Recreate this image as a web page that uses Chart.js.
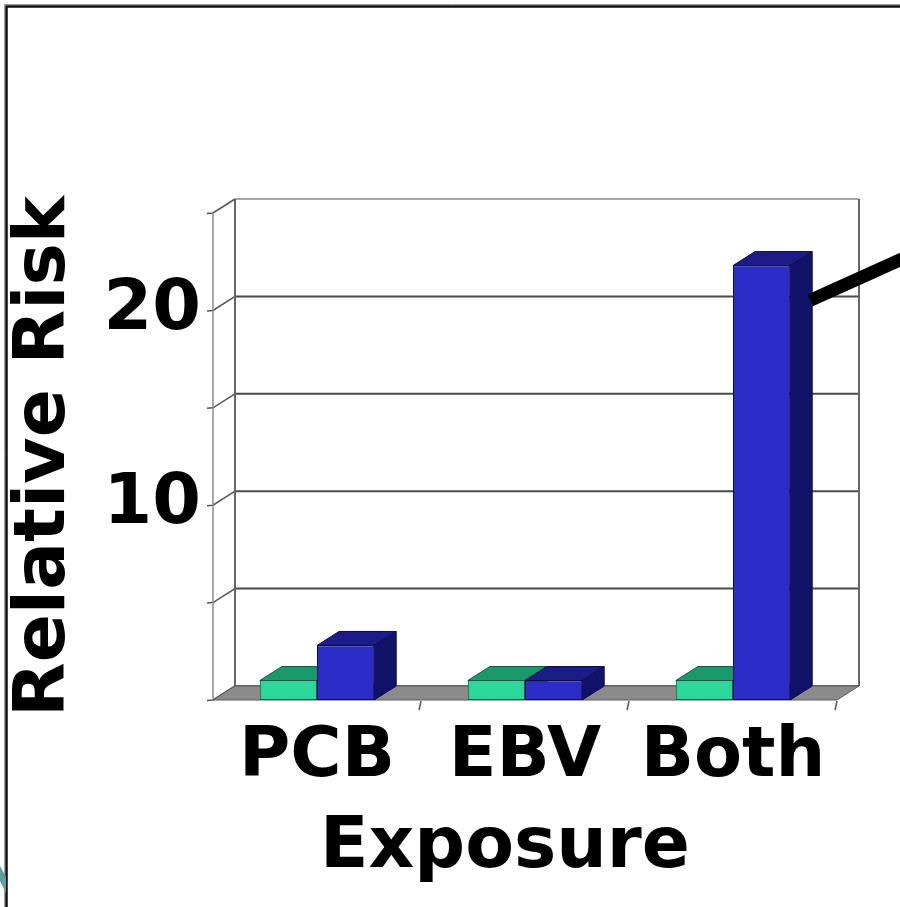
<!DOCTYPE html>
<html>
<head>
<meta charset="utf-8">
<title>Relative Risk by Exposure</title>
<script src="https://cdn.jsdelivr.net/npm/chart.js@4.4.1/dist/chart.umd.min.js"></script>
<style>
  html, body { margin: 0; padding: 0; background: #ffffff; }
  canvas { display: block; }
</style>
</head>
<body>
<canvas id="riskChart" width="900" height="907"></canvas>
<script>
// ---- data ----
const categories = ['PCB', 'EBV', 'Both'];
const referenceRisk = [1.0, 1.0, 1.0];
const exposedRisk = [2.8, 1.0, 22.3];
const yTickValues = [0, 5, 10, 15, 20, 25];
const yTickLabels = ['', '', '10', '', '20', ''];

// ---- look ----
const FONT = '"DejaVu Sans", Verdana, sans-serif';
const depth = { dx: 22, dy: -14 };

// Draws the pseudo-3D box (walls, floor, bar sides/tops) around the bars
const box3d = {
  id: 'box3d',
  beforeDraw(chart) {
    const { ctx, width, height } = chart;
    ctx.save();
    ctx.fillStyle = '#ffffff';
    ctx.fillRect(0, 0, width, height);
    // slide frame
    ctx.strokeStyle = '#9a9a9a';
    ctx.lineWidth = 1;
    ctx.beginPath();
    ctx.moveTo(4.5, height); ctx.lineTo(4.5, 4.5); ctx.lineTo(width, 4.5);
    ctx.stroke();
    ctx.strokeStyle = '#111111';
    ctx.lineWidth = 2.5;
    ctx.beginPath();
    ctx.moveTo(6.5, height); ctx.lineTo(6.5, 6.5); ctx.lineTo(width, 6.5);
    ctx.stroke();
    // teal slide ornament peeking in at the lower left
    ctx.fillStyle = '#5f9e9e';
    ctx.beginPath();
    ctx.moveTo(0, 866); ctx.lineTo(6, 877); ctx.lineTo(6, 893); ctx.lineTo(0, 881);
    ctx.closePath();
    ctx.fill();
    ctx.restore();
  },
  beforeDatasetsDraw(chart) {
    const { ctx, chartArea: a, scales: { x, y } } = chart;
    const { dx, dy } = depth;
    ctx.save();
    ctx.lineCap = 'butt';

    // back wall + left wall
    ctx.fillStyle = '#ffffff';
    ctx.fillRect(a.left + dx, a.top + dy, a.right - a.left, a.bottom - a.top);

    // gridlines on the back wall, joined across the left wall
    yTickValues.forEach(v => {
      const py = y.getPixelForValue(v);
      ctx.strokeStyle = v === 0 ? '#6a6a6a' : (v === yTickValues[yTickValues.length - 1] ? '#8a8a8a' : '#4a4a4a');
      ctx.lineWidth = v === yTickValues[yTickValues.length - 1] ? 1.5 : 2;
      ctx.beginPath();
      ctx.moveTo(a.left + dx, py + dy);
      ctx.lineTo(a.right + dx, py + dy);
      ctx.stroke();
      ctx.strokeStyle = '#555555';
      ctx.lineWidth = 1.5;
      ctx.beginPath();
      ctx.moveTo(a.left - 6, py + 0.5);
      ctx.lineTo(a.left, py);
      ctx.lineTo(a.left + dx, py + dy);
      ctx.stroke();
    });

    // wall edges
    ctx.strokeStyle = '#8c8c8c';
    ctx.lineWidth = 1.5;
    ctx.beginPath();
    ctx.moveTo(a.left, a.top); ctx.lineTo(a.left, a.bottom);
    ctx.stroke();
    ctx.strokeStyle = '#666666';
    ctx.lineWidth = 2;
    ctx.beginPath();
    ctx.moveTo(a.left + dx, a.top + dy); ctx.lineTo(a.left + dx, a.bottom + dy);
    ctx.moveTo(a.right + dx, a.top + dy); ctx.lineTo(a.right + dx, a.bottom + dy);
    ctx.stroke();

    // floor
    ctx.fillStyle = '#8b8b8b';
    ctx.strokeStyle = '#5e5e5e';
    ctx.lineWidth = 1;
    ctx.beginPath();
    ctx.moveTo(a.left, a.bottom);
    ctx.lineTo(a.right, a.bottom);
    ctx.lineTo(a.right + dx, a.bottom + dy);
    ctx.lineTo(a.left + dx, a.bottom + dy);
    ctx.closePath();
    ctx.fill();
    ctx.stroke();

    // category separators under the floor edge
    const n = categories.length;
    ctx.strokeStyle = '#555555';
    ctx.lineWidth = 1.5;
    for (let i = 1; i <= n; i++) {
      const px = a.left + i * (a.right - a.left) / n;
      ctx.beginPath();
      ctx.moveTo(px, a.bottom + 1);
      ctx.lineTo(px - 2, a.bottom + 10);
      ctx.stroke();
    }

    // side and top faces of every bar, category by category
    for (let c = 0; c < n; c++) {
      chart.data.datasets.forEach((ds, i) => {
        const el = chart.getDatasetMeta(i).data[c];
        if (!el) return;
        const { x: cx, y: top, base, width: w } = el.getProps(['x', 'y', 'base', 'width'], true);
        const L = cx - w / 2, R = cx + w / 2;
        ctx.strokeStyle = ds.borderColor;
        ctx.lineWidth = 1;
        ctx.fillStyle = ds.sideColor;
        ctx.beginPath();
        ctx.moveTo(R, base); ctx.lineTo(R + dx, base + dy);
        ctx.lineTo(R + dx, top + dy); ctx.lineTo(R, top);
        ctx.closePath();
        ctx.fill(); ctx.stroke();
        ctx.fillStyle = ds.topColor;
        ctx.beginPath();
        ctx.moveTo(L, top); ctx.lineTo(L + dx, top + dy);
        ctx.lineTo(R + dx, top + dy); ctx.lineTo(R, top);
        ctx.closePath();
        ctx.fill(); ctx.stroke();
      });
    }
    ctx.restore();
  },
  afterDatasetsDraw(chart) {
    const { ctx, scales: { y } } = chart;
    const { dx, dy } = depth;
    // callout stroke leaving the joint-exposure bar
    const el = chart.getDatasetMeta(1).data[2];
    const { x: cx, width: w } = el.getProps(['x', 'width'], true);
    const sx = cx + w / 2 + dx - 2;
    const sy = y.getPixelForValue(20) + dy + 4;
    ctx.save();
    ctx.strokeStyle = '#000000';
    ctx.lineWidth = 13;
    ctx.lineCap = 'butt';
    ctx.beginPath();
    ctx.moveTo(sx, sy);
    ctx.lineTo(sx + 100, sy - 45);
    ctx.stroke();
    ctx.restore();
  },
  afterDraw(chart) {
    const { ctx, chartArea: a } = chart;
    ctx.save();
    ctx.fillStyle = '#000000';
    ctx.font = 'bold 71px ' + FONT;
    ctx.textAlign = 'center';
    ctx.textBaseline = 'alphabetic';
    ctx.fillText('Exposure', (a.left + a.right) / 2 - 20, a.bottom + 167);
    ctx.restore();
  }
};

new Chart(document.getElementById('riskChart'), {
  type: 'bar',
  data: {
    labels: categories,
    datasets: [
      {
        label: 'Reference',
        data: referenceRisk,
        backgroundColor: '#2ad89c',
        borderColor: '#0e5e40',
        topColor: '#1a9a6c',
        sideColor: '#127050',
        borderWidth: 1,
        borderSkipped: false
      },
      {
        label: 'Exposed',
        data: exposedRisk,
        backgroundColor: '#2c2cc8',
        borderColor: '#0a0a4a',
        topColor: '#1c1c88',
        sideColor: '#12126a',
        borderWidth: 1,
        borderSkipped: false
      }
    ]
  },
  options: {
    responsive: false,
    animation: false,
    devicePixelRatio: 1,
    layout: { padding: { top: 213, right: 63, bottom: 0, left: 0 } },
    categoryPercentage: 0.55,
    barPercentage: 1.0,
    plugins: {
      legend: { display: false },
      tooltip: { enabled: false },
      title: { display: false }
    },
    scales: {
      x: {
        grid: { display: false, drawTicks: false },
        border: { display: false },
        ticks: {
          color: '#000000',
          font: { family: FONT, size: 70, weight: 'bold', lineHeight: 1 },
          padding: 23,
          maxRotation: 0,
          minRotation: 0,
          autoSkip: false
        },
        afterFit(scale) { scale.height = 207; }
      },
      y: {
        min: 0,
        max: 25,
        grid: { display: false, drawTicks: false },
        border: { display: false },
        afterBuildTicks(scale) {
          scale.ticks = yTickValues.map(v => ({ value: v }));
        },
        ticks: {
          color: '#000000',
          font: { family: FONT, size: 70, weight: 'bold', lineHeight: 1 },
          padding: 12,
          callback: (value) => {
            const k = yTickValues.indexOf(value);
            return k >= 0 ? yTickLabels[k] : '';
          }
        },
        title: {
          display: true,
          text: 'Relative Risk',
          color: '#000000',
          font: { family: FONT, size: 71, weight: 'bold', lineHeight: 1 },
          padding: { top: 10, bottom: 0 }
        },
        afterFit(scale) { scale.width = 213; }
      }
    }
  },
  plugins: [box3d]
});
</script>
</body>
</html>
